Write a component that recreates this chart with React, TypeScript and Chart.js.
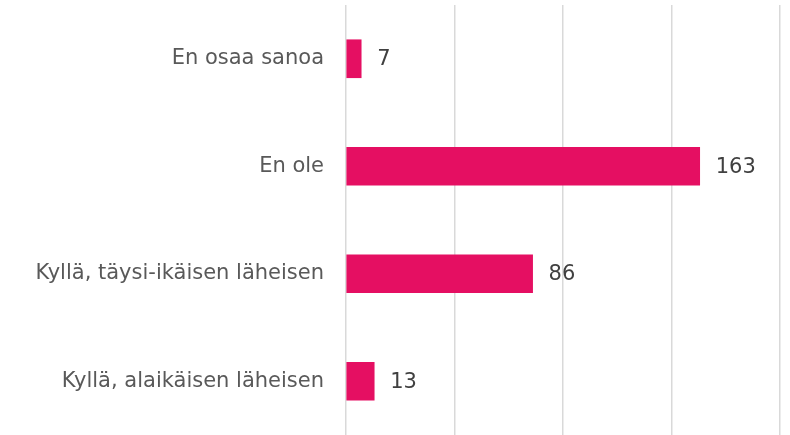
import React, { useEffect, useRef } from "react";
import { Chart, registerables } from "chart.js";

Chart.register(...registerables);

const categories = [
  "En osaa sanoa",
  "En ole",
  "Kyllä, täysi-ikäisen läheisen",
  "Kyllä, alaikäisen läheisen",
];
const values = [7, 163, 86, 13];
const axisMin = 0;
const axisMax = 200;
const axisStep = 50;

const FONT = "'DejaVu Sans', sans-serif";
const BAR_COLOR = "#E50F62";

const valueLabels = {
  id: "valueLabels",
  afterDatasetsDraw(chart: any) {
    const ctx = chart.ctx;
    const meta = chart.getDatasetMeta(0);
    ctx.save();
    ctx.font = `21px ${FONT}`;
    ctx.fillStyle = "#404040";
    ctx.textAlign = "left";
    ctx.textBaseline = "middle";
    meta.data.forEach((bar: any, i: number) => {
      ctx.fillText(String(chart.data.datasets[0].data[i]), bar.x + 16, bar.y + 1);
    });
    ctx.restore();
  },
};

export default function App() {
  const ref = useRef<HTMLCanvasElement | null>(null);
  useEffect(() => {
    if (!ref.current) return;
    const chart = new Chart(ref.current, {
      type: "bar",
      data: {
        labels: categories,
        datasets: [
          {
            data: values,
            backgroundColor: BAR_COLOR,
            borderWidth: 0,
            barThickness: 38,
          },
        ],
      },
      options: {
        indexAxis: "y",
        responsive: false,
        animation: false,
        layout: { padding: { top: 5, right: 10, bottom: 0, left: 0 } },
        plugins: {
          legend: { display: false },
          tooltip: { enabled: false },
        },
        scales: {
          x: {
            min: axisMin,
            max: axisMax,
            ticks: { stepSize: axisStep, display: false },
            grid: { color: "#d9d9d9", lineWidth: 1.5, drawTicks: false },
            border: { display: false },
            afterFit(scale: any) {
              scale.height = 0;
              scale.paddingLeft = 0;
              scale.paddingRight = 0;
            },
          },
          y: {
            ticks: {
              color: "#595959",
              font: { family: FONT, size: 21 },
              padding: 22,
            },
            grid: { display: false, drawTicks: false },
            border: { display: false },
            afterFit(scale: any) {
              scale.width = 346;
              scale.paddingTop = 0;
              scale.paddingBottom = 0;
            },
          },
        },
      },
      plugins: [valueLabels],
    });
    return () => chart.destroy();
  }, []);
  return (
    <div style={{ position: "absolute", left: 0, top: 0, width: 790, height: 435, overflow: "hidden", background: "#fff" }}>
      <canvas ref={ref} width={790} height={435} />
    </div>
  );
}
